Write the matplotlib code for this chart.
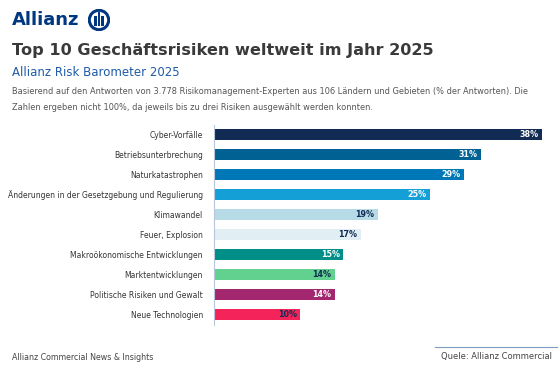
import matplotlib
matplotlib.use('Agg')
import matplotlib.pyplot as plt
from matplotlib.patches import Circle, Rectangle
from matplotlib.lines import Line2D

# Daten
kategorien = ['Cyber-Vorfälle', 'Betriebsunterbrechung', 'Naturkatastrophen',
              'Änderungen in der Gesetzgebung und Regulierung', 'Klimawandel',
              'Feuer, Explosion', 'Makroökonomische Entwicklungen',
              'Marktentwicklungen', 'Politische Risiken und Gewalt', 'Neue Technologien']
werte = [38, 31, 29, 25, 19, 17, 15, 14, 14, 10]
farben = ['#122B54', '#006192', '#0077B6', '#149FD6', '#B6DBE6',
          '#E1EFF4', '#008E88', '#62D08F', '#A3276E', '#F4245A']
label_farben = ['white', 'white', 'white', 'white', '#122B54',
                '#122B54', 'white', '#122B54', 'white', '#122B54']

W, H = 560, 372
fig = plt.figure(figsize=(W / 100, H / 100), dpi=100)
fig.patch.set_facecolor('white')

def fx(px):
    return px / W

def fy(py):
    return 1 - py / H

# Logo
fig.text(fx(12), fy(20), 'Allianz', fontsize=13, fontweight='bold', color='#003781',
         va='center', ha='left')
ax_logo = fig.add_axes([fx(88), fy(31), fx(22), 22 / H])
ax_logo.set_xlim(-1, 1)
ax_logo.set_ylim(-1, 1)
ax_logo.set_aspect('equal')
ax_logo.axis('off')
ax_logo.add_patch(Circle((0, 0), 0.88, fill=False, lw=2.2, color='#003781'))
for x0, y0, hh in [(-0.45, -0.55, 0.95), (-0.12, -0.55, 1.25), (0.22, -0.55, 0.95)]:
    ax_logo.add_patch(Rectangle((x0, y0), 0.23, hh, color='#003781', lw=0))

# Titel
fig.text(fx(12), fy(51), 'Top 10 Geschäftsrisiken weltweit im Jahr 2025', fontsize=11.6,
         fontweight='bold', color='#3A3A3A', va='center', ha='left')
fig.text(fx(12), fy(73), 'Allianz Risk Barometer 2025', fontsize=8.5, color='#1E5BA8',
         va='center', ha='left')
fig.text(fx(12), fy(91),
         'Basierend auf den Antworten von 3.778 Risikomanagement-Experten aus 106 Ländern und Gebieten (% der Antworten). Die',
         fontsize=5.95, color='#555555', va='center', ha='left')
fig.text(fx(12), fy(107), 'Zahlen ergeben nicht 100%, da jeweils bis zu drei Risiken ausgewählt werden konnten.',
         fontsize=5.95, color='#555555', va='center', ha='left')

# Balken
ax = fig.add_axes([fx(214), fy(324.5), fx(559 - 214), (324.5 - 124.5) / H])
pos = list(range(len(kategorien)))
ax.barh(pos, werte, height=0.55, color=farben, edgecolor='none')
ax.set_xlim(0, 40)
ax.set_ylim(len(kategorien) - 0.5, -0.5)
ax.set_yticks(pos)
ax.set_yticklabels(kategorien, fontsize=5.5, color='#333333')
ax.tick_params(axis='y', length=0, pad=8)
ax.set_xticks([])
for s in ['top', 'right', 'bottom']:
    ax.spines[s].set_visible(False)
ax.spines['left'].set_color('#B8C8DC')
ax.spines['left'].set_linewidth(0.8)

for i, (v, c) in enumerate(zip(werte, label_farben)):
    ax.text(v - 0.4, i, f'{v}%', ha='right', va='center', fontsize=5.8,
            fontweight='bold', color=c)

# Fußzeile
fig.text(fx(12), fy(357), 'Allianz Commercial News & Insights', fontsize=5.7,
         color='#444444', va='center', ha='left')
fig.text(fx(552), fy(357), 'Quele: Allianz Commercial', fontsize=6.0,
         color='#444444', va='center', ha='right')
fig.add_artist(Line2D([fx(435), fx(557)], [fy(347), fy(347)], color='#7C9CC0', lw=0.8))

fig.savefig('out.png', dpi=100, facecolor='white')
